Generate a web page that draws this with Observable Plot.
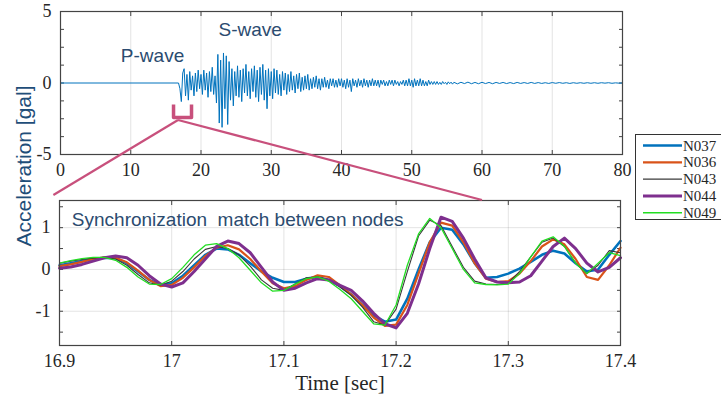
<!DOCTYPE html>
<html><head><meta charset="utf-8">
<script src="https://cdn.jsdelivr.net/npm/d3@7"></script>
<script src="https://cdn.jsdelivr.net/npm/@observablehq/plot@0.6"></script>
<style>
html,body{margin:0;padding:0;background:#fff;}
#wrap{position:relative;width:721px;height:406px;overflow:hidden;background:#fff;}
#wrap svg text{white-space:pre;}
#wrap svg g[aria-label*="tick label"]{font-family:'Liberation Serif','Times New Roman',serif;font-size:18px;}
.abs{position:absolute;}
</style></head><body><div id="wrap"></div>
<script>
// ---------- Data ----------
// Top panel: full record (sec, gal)
const preEventTime = [0];
const preEventValue = [0];
const waveStart = 16.8, waveStep = 0.2;
const waveValues = [
  0.0,
  -0.4, -1.3, 0.7, 1.0, -0.9,
  0.6, -1.2, 0.8, -0.5, 0.5,
  -0.9, 0.7, -0.6, 0.9, -0.4,
  0.6, -0.8, 0.9, -0.5, 0.7,
  -1.0, 0.8, -0.6, 1.1, -0.8,
  0.5, -1.4, 2.0, -2.8, 1.6,
  -3.1, 2.1, -1.8, 1.9, -2.9,
  1.5, -1.2, 1.0, -1.6, 0.8,
  -0.9, 1.2, -1.0, 0.9, -1.3,
  1.0, -0.7, 1.3, -0.9, 0.8,
  -1.1, 1.0, -0.6, 1.2, -1.0,
  0.9, -1.3, 1.1, -0.8, 1.3,
  -1.2, 0.9, -1.8, 1.0, -0.9,
  0.8, -1.1, 1.0, -0.7, 0.9,
  -0.8, 0.6, -0.9, 0.8, -0.5,
  0.7, -0.8, 0.6, -0.6, 0.8,
  -0.5, 0.5, -0.7, 0.6, -0.4,
  0.7, -0.6, 0.4, -0.5, 0.5,
  -0.4, 0.6, -0.5, 0.3, -0.4,
  0.4, -0.3, 0.5, -0.4, 0.3,
  -0.5, 0.3, -0.3, 0.4, -0.3,
  0.2, -0.4, 0.3, -0.2, 0.3,
  -0.3, 0.2, -0.3, 0.3, -0.2,
  0.3, -0.3, 0.2, -0.4, 0.3,
  -0.3, 0.2, -0.6, 0.3, -0.2,
  0.2, -0.3, 0.3, -0.2, 0.2,
  -0.3, 0.3, -0.2, 0.2, -0.3,
  0.2, -0.2, 0.3, -0.2, 0.2,
  -0.2, 0.2, -0.3, 0.2, -0.1,
  0.2, -0.2, 0.1, -0.2, 0.2,
  -0.1, 0.2, -0.2, 0.2, -0.1,
  0.1, -0.2, 0.1, -0.1, 0.2,
  -0.2, 0.2, -0.2, 0.3, -0.2,
  0.2, -0.3, 0.3, -0.2, 0.2,
  -0.2, 0.3, -0.2, 0.2, -0.2,
  0.1, -0.2, 0.2, -0.1, 0.1,
  -0.1, 0.1, -0.1, 0.1, -0.1,
  0.05, -0.1, 0.1, -0.05, 0.05,
  -0.1, 0.08, -0.05, 0.06, -0.08,
  0.05
];
const tailStart = 56.5, tailStep = 0.5;
const tailValues = [
  -0.06, 0.05, -0.04, 0.06, -0.05, 0.04, -0.05, 0.05, -0.04, 0.04,
  -0.05, 0.04, -0.03, 0.04, -0.04, 0.03, -0.04, 0.04, -0.03, 0.03,
  -0.03, 0.04, -0.03, 0.03, -0.03, 0.02, -0.03, 0.03, -0.02, 0.03,
  -0.02, 0.02, -0.03, 0.02, -0.02, 0.02, -0.02, 0.02, -0.02, 0.02,
  -0.02, 0.02, -0.01, 0.02, -0.02, 0.01, -0.01, 0.0
];
const topXTicks = [0, 10, 20, 30, 40, 50, 60, 70, 80];
const topYLabels = [-5, 0, 5];
const topYTicks = [-5, -3.75, -2.5, -1.25, 0, 1.25, 2.5, 3.75, 5];

// Bottom panel: zoom 16.9 - 17.4 sec, five nodes
const zoomTime = [16.90,16.91,16.92,16.93,16.94,16.95,16.96,16.97,16.98,16.99,
  17.00,17.01,17.02,17.03,17.04,17.05,17.06,17.07,17.08,17.09,
  17.10,17.11,17.12,17.13,17.14,17.15,17.16,17.17,17.18,17.19,
  17.20,17.21,17.22,17.23,17.24,17.25,17.26,17.27,17.28,17.29,
  17.30,17.31,17.32,17.33,17.34,17.35,17.36,17.37,17.38,17.39,17.40];
const N037 = [0.10,0.15,0.20,0.25,0.28,0.27,0.15,-0.05,-0.25,-0.37,
  -0.33,-0.15,0.10,0.35,0.50,0.48,0.35,0.15,-0.05,-0.20,
  -0.30,-0.30,-0.22,-0.18,-0.25,-0.40,-0.60,-0.85,-1.10,-1.25,
  -1.20,-0.70,0.00,0.65,1.00,0.95,0.60,0.15,-0.20,-0.18,
  -0.10,0.02,0.18,0.35,0.45,0.38,0.15,-0.05,0.00,0.35,0.68];
const N036 = [0.08,0.12,0.18,0.25,0.29,0.28,0.17,-0.03,-0.25,-0.40,
  -0.37,-0.20,0.05,0.32,0.52,0.58,0.48,0.25,-0.05,-0.33,
  -0.45,-0.40,-0.25,-0.14,-0.18,-0.38,-0.60,-0.85,-1.15,-1.35,
  -1.32,-0.85,-0.10,0.65,1.12,1.05,0.65,0.15,-0.22,-0.30,
  -0.28,-0.10,0.20,0.55,0.72,0.60,0.25,-0.18,-0.25,0.10,0.52];
const N043 = [0.15,0.20,0.24,0.27,0.28,0.25,0.10,-0.12,-0.32,-0.38,
  -0.28,-0.05,0.25,0.48,0.55,0.50,0.35,0.08,-0.25,-0.45,
  -0.50,-0.35,-0.20,-0.18,-0.25,-0.42,-0.62,-0.90,-1.25,-1.33,
  -0.95,-0.05,0.80,1.18,1.05,0.55,0.05,-0.28,-0.35,-0.36,
  -0.32,-0.05,0.30,0.65,0.75,0.55,0.15,-0.10,0.10,0.45,0.40];
const N044 = [0.03,0.06,0.12,0.20,0.28,0.32,0.28,0.10,-0.15,-0.35,
  -0.42,-0.32,-0.05,0.25,0.55,0.68,0.62,0.40,0.05,-0.30,
  -0.50,-0.45,-0.32,-0.22,-0.25,-0.38,-0.50,-0.75,-1.05,-1.30,
  -1.40,-1.05,-0.35,0.50,1.25,1.15,0.75,0.25,-0.20,-0.30,
  -0.32,-0.30,-0.15,0.20,0.55,0.75,0.50,0.15,-0.06,0.05,0.28];
const N049 = [0.15,0.21,0.26,0.29,0.29,0.22,0.05,-0.18,-0.35,-0.36,
  -0.22,0.05,0.35,0.58,0.62,0.50,0.28,-0.02,-0.32,-0.52,
  -0.50,-0.35,-0.22,-0.18,-0.28,-0.48,-0.70,-1.00,-1.30,-1.33,
  -0.85,0.10,0.85,1.22,1.00,0.50,0.00,-0.32,-0.36,-0.37,
  -0.35,-0.10,0.30,0.68,0.78,0.55,0.15,-0.10,0.15,0.40,0.33];
const seriesNames = ["N037", "N036", "N043", "N044", "N049"];
const seriesValues = [N037, N036, N043, N044, N049];
const seriesColors = ["#0072BD", "#D95319", "#3a3a3a", "#7E2F8E", "#22dd22"];
const seriesWidths = [2.6, 2.2, 1.1, 3.0, 1.3];
const botXTicks = [16.9, 17, 17.1, 17.2, 17.3, 17.4];
const botYLabels = [-1, 0, 1];
const botYTicks = [-1.5, -1, -0.5, 0, 0.5, 1, 1.5];

// Annotations
const bracketT = [16.09, 16.09, 18.65, 18.65];
const bracketV = [-1.5, -2.42, -2.42, -1.5];

// ---------- Build ----------
const waveData = [
  ...preEventTime.map((t, i) => ({t, v: preEventValue[i]})),
  ...waveValues.map((v, i) => ({t: waveStart + i * waveStep, v})),
  ...tailValues.map((v, i) => ({t: tailStart + i * tailStep, v}))
];
const bracket = bracketT.map((t, i) => ({t, v: bracketV[i]}));

const pink = "#c8507c";
const annoColor = "#2b4b6f";
const tickColor = "#262626";
const serif = "'Liberation Serif', 'Times New Roman', serif";
const sans = "'Liberation Sans', Arial, sans-serif";
const baseStyle = {fontFamily: serif, fontSize: "18px", color: tickColor, background: "transparent", overflow: "visible"};
const blank = () => "";
const fmt = d => String(d);

function inwardTicks(xt, yt) {
  return [
    Plot.axisX(xt, {anchor: "bottom", tickSize: 4, dy: -4, tickFormat: blank, label: null, stroke: "#444"}),
    Plot.axisX(xt, {anchor: "top", tickSize: 4, dy: 4, tickFormat: blank, label: null, stroke: "#444"}),
    Plot.axisY(yt, {anchor: "left", tickSize: 4, dx: 4, tickFormat: blank, label: null, stroke: "#444"}),
    Plot.axisY(yt, {anchor: "right", tickSize: 4, dx: -4, tickFormat: blank, label: null, stroke: "#444"})
  ];
}

const topPlot = Plot.plot({
  width: 640, height: 175,
  marginLeft: 60, marginRight: 18, marginTop: 11, marginBottom: 21,
  x: {domain: [0, 80]},
  y: {domain: [-5, 5]},
  style: baseStyle,
  marks: [
    Plot.gridX(topXTicks.slice(1, -1), {stroke: "#000", strokeOpacity: 0.11}),
    Plot.axisX(topXTicks, {tickSize: 0, tickPadding: 9, label: null, tickFormat: fmt, fontFamily: serif, fill: tickColor}),
    Plot.axisY(topYLabels, {tickSize: 0, tickPadding: 9, label: null, tickFormat: fmt, fontFamily: serif, fill: tickColor}),
    ...inwardTicks(topXTicks, topYTicks),
    Plot.line(waveData, {x: "t", y: "v", stroke: "#0072BD", strokeWidth: 1}),
    Plot.line(bracket, {x: "t", y: "v", stroke: pink, strokeWidth: 3.5, strokeLinejoin: "round", strokeLinecap: "butt"}),
    Plot.text(["P-wave"], {x: 13.1, y: 1.92, text: d => d, fill: annoColor, fontFamily: sans, fontSize: 19}),
    Plot.text(["S-wave"], {x: 27.0, y: 3.74, text: d => d, fill: annoColor, fontFamily: sans, fontSize: 19}),
    Plot.frame({stroke: "#444", strokeWidth: 1.2})
  ]
});

const botMarks = [
  Plot.gridX(botXTicks.slice(1, -1), {stroke: "#000", strokeOpacity: 0.11}),
  Plot.gridY(botYLabels, {stroke: "#000", strokeOpacity: 0.11}),
  Plot.axisX(botXTicks, {tickSize: 0, tickPadding: 9, label: null, tickFormat: fmt, fontFamily: serif, fill: tickColor}),
  Plot.axisY(botYLabels, {tickSize: 0, tickPadding: 9, label: null, tickFormat: fmt, fontFamily: serif, fill: tickColor}),
  ...inwardTicks(botXTicks, botYTicks)
];
seriesValues.forEach((vals, k) => {
  botMarks.push(Plot.line(zoomTime.map((t, i) => ({t, v: vals[i]})),
    {x: "t", y: "v", stroke: seriesColors[k], strokeWidth: seriesWidths[k], strokeLinejoin: "round"}));
});
botMarks.push(
  Plot.text(["Synchronization  match between nodes"], {x: 16.911, y: 1.19, text: d => d, textAnchor: "start", fill: annoColor, fontFamily: sans, fontSize: 19}),
  Plot.text(["Time [sec]"], {frameAnchor: "bottom", dy: 44, text: d => d, fontFamily: serif, fontSize: 21, fill: tickColor}),
  Plot.frame({stroke: "#444", strokeWidth: 1.2})
);

const botPlot = Plot.plot({
  width: 640, height: 226,
  marginLeft: 59, marginRight: 20, marginTop: 20, marginBottom: 61,
  x: {domain: [16.9, 17.4]},
  y: {domain: [-1.82, 1.65]},
  style: baseStyle,
  marks: botMarks
});

const wrap = document.getElementById("wrap");
const botTop = 180;
topPlot.classList.add("abs"); topPlot.style.left = "0px"; topPlot.style.top = "0px";
botPlot.classList.add("abs"); botPlot.style.left = "0px"; botPlot.style.top = botTop + "px";
wrap.appendChild(topPlot);
wrap.appendChild(botPlot);

// Overlay: zoom connector lines and shared y label
const tx = topPlot.scale("x"), ty = topPlot.scale("y");
const bx = botPlot.scale("x"), by = botPlot.scale("y");
const apex = [tx.apply(16.8), ty.apply(-2.62)];
const leftEnd = [bx.apply(16.895), by.apply(1.77) + botTop];
const rightEnd = [bx.apply(17.277), by.apply(1.65) + botTop];

const overlay = d3.create("svg").attr("class", "abs").attr("width", 721).attr("height", 406)
  .style("left", "0px").style("top", "0px").style("pointer-events", "none");
[leftEnd, rightEnd].forEach(p => {
  overlay.append("line").attr("x1", apex[0]).attr("y1", apex[1]).attr("x2", p[0]).attr("y2", p[1])
    .attr("stroke", pink).attr("stroke-width", 2.2);
});
overlay.append("text").text("Acceleration [gal]")
  .attr("transform", "translate(23,166) rotate(-90)")
  .attr("text-anchor", "middle").attr("dominant-baseline", "central")
  .attr("font-family", sans).attr("font-size", 21).attr("fill", "#1f4e79");
wrap.appendChild(overlay.node());

// Legend
const legend = document.createElement("div");
legend.className = "abs";
Object.assign(legend.style, {left: "635px", top: "134px", width: "100px", height: "86px",
  border: "1px solid #333", background: "#fff", boxSizing: "border-box"});
const lsvg = d3.create("svg").attr("width", 100).attr("height", 86).style("display", "block");
seriesNames.forEach((name, k) => {
  const y = 10.5 + k * 16.8;
  lsvg.append("line").attr("x1", 7).attr("x2", 46).attr("y1", y).attr("y2", y)
    .attr("stroke", seriesColors[k]).attr("stroke-width", Math.max(1.4, seriesWidths[k]));
  lsvg.append("text").text(name).attr("x", 47).attr("y", y).attr("dy", "0.34em")
    .attr("font-family", serif).attr("font-size", 15).attr("fill", tickColor);
});
legend.appendChild(lsvg.node());
wrap.appendChild(legend);
</script></body></html>
